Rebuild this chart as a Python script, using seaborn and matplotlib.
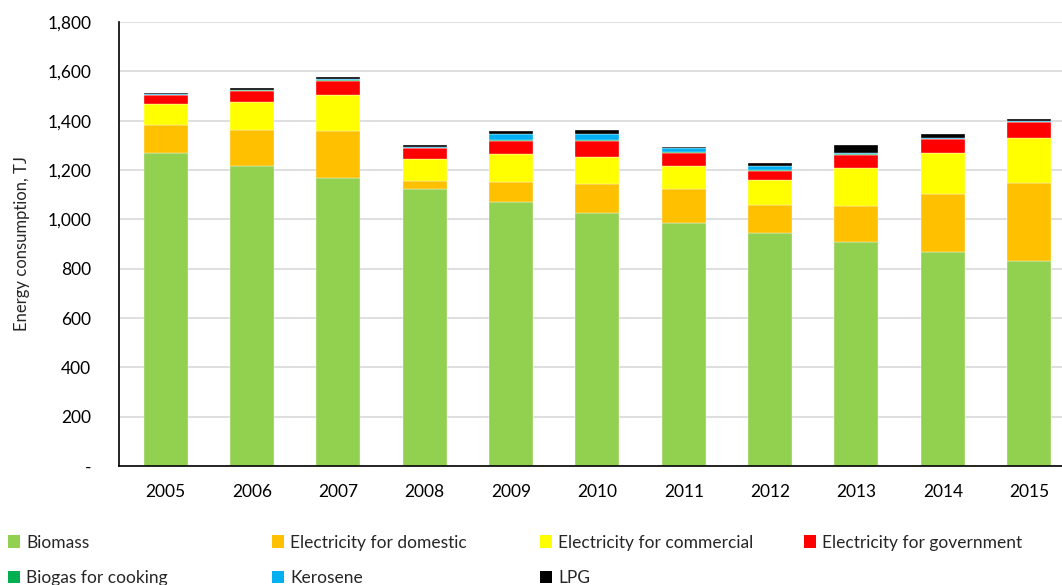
import numpy as np
import pandas as pd
import matplotlib
matplotlib.use("Agg")
import matplotlib.pyplot as plt
from matplotlib.patches import Patch
from matplotlib.ticker import FuncFormatter
import seaborn as sns

years = ["2005", "2006", "2007", "2008", "2009", "2010", "2011", "2012", "2013", "2014", "2015"]
biomass = [1268, 1218, 1166, 1123, 1072, 1027, 985, 946, 907, 869, 832]
elec_domestic = [115, 144, 192, 34, 79, 116, 139, 111, 148, 234, 317]
elec_commercial = [85, 114, 146, 88, 115, 110, 94, 103, 152, 167, 182]
elec_government = [35, 46, 58, 43, 53, 66, 52, 37, 55, 56, 64]
biogas = [1, 1, 1, 1, 1, 1, 1, 1, 1, 1, 1]
kerosene = [4, 3, 4, 4, 27, 27, 17, 18, 5, 1, 1]
lpg = [5, 6, 9, 9, 10, 14, 5, 11, 35, 18, 10]

series_names = ["Biomass", "Electricity for domestic", "Electricity for commercial",
                "Electricity for government", "Biogas for cooking", "Kerosene", "LPG"]
series_values = [biomass, elec_domestic, elec_commercial, elec_government, biogas, kerosene, lpg]
colors = ["#92D050", "#FFC000", "#FFFF00", "#FF0000", "#00B050", "#00B0F0", "#000000"]

sns.set_style("white")
plt.rcParams["font.family"] = ["Lato", "DejaVu Sans"]

fig = plt.figure(figsize=(10.62, 5.85), dpi=100)
ax = fig.add_axes([0.112, 0.2034, 0.888, 0.759])

bottom = np.zeros(len(years))
for name, vals, col in zip(series_names, series_values, colors):
    df = pd.DataFrame({"year": years, "value": vals})
    sns.barplot(data=df, x="year", y="value", color=col, bottom=bottom, width=0.51,
                saturation=1, ax=ax, edgecolor="white", linewidth=0.25, errorbar=None)
    bottom = bottom + np.array(vals, dtype=float)

ax.set_ylim(0, 1800)
ax.set_xlim(-0.54, 10.38)
ax.set_yticks(np.arange(0, 1801, 200))
ax.yaxis.set_major_formatter(FuncFormatter(lambda v, p: "-" if v == 0 else f"{int(v):,}"))
ax.yaxis.grid(True, color="#D9D9D9", linewidth=1.2)
ax.set_axisbelow(True)
for s in ["top", "right"]:
    ax.spines[s].set_visible(False)
for s in ["left", "bottom"]:
    ax.spines[s].set_color("black")
    ax.spines[s].set_linewidth(1.2)
ax.tick_params(axis="both", labelsize=12.5, length=0, colors="black")
ax.tick_params(axis="x", pad=13)
ax.tick_params(axis="y", pad=20)
ax.set_xlabel("")
ax.set_ylabel("Energy consumption, TJ", fontsize=12, labelpad=12)

# legend: 4 columns placed at fixed positions
cols = [[0, 4], [1, 5], [2, 6], [3]]
xs = [0.004, 0.253, 0.505, 0.754]
for idxs, x in zip(cols, xs):
    handles = [Patch(facecolor=colors[i], edgecolor="none") for i in idxs]
    labels = [series_names[i] for i in idxs]
    fig.legend(handles, labels, loc="upper left", bbox_to_anchor=(x, 0.092),
               frameon=False, fontsize=12.5, handlelength=0.7, handleheight=0.7,
               handletextpad=0.35, labelspacing=1.1, borderaxespad=0, borderpad=0.2)

fig.savefig("out.png", dpi=100)
